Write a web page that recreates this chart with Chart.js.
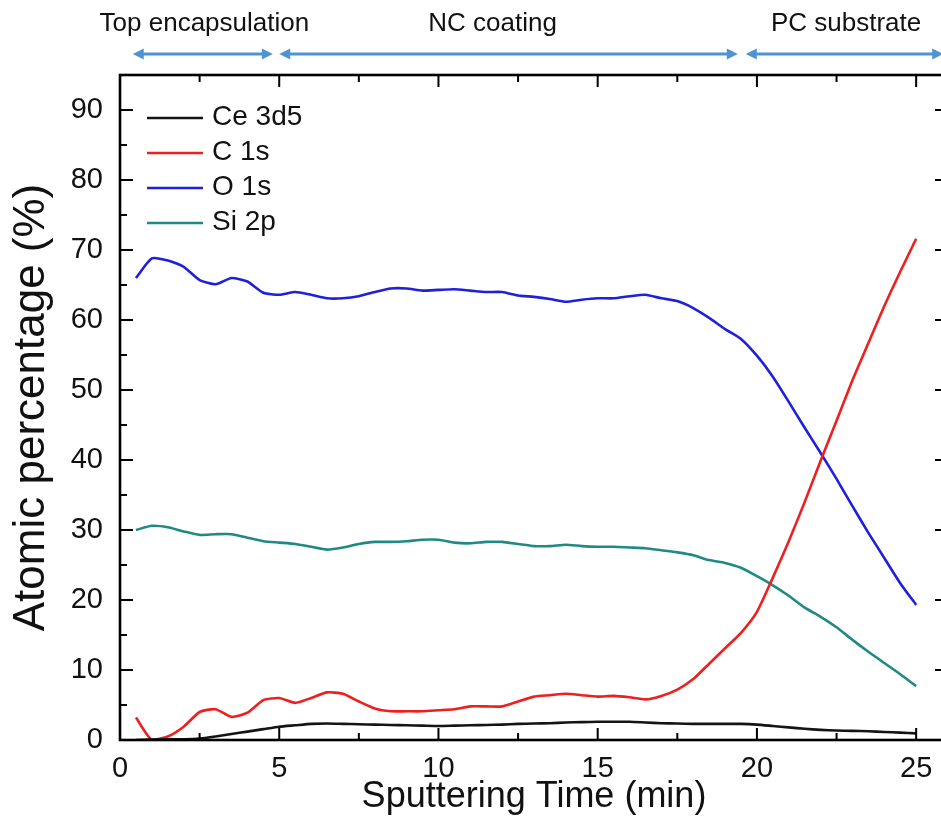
<!DOCTYPE html>
<html>
<head>
<meta charset="utf-8">
<title>XPS depth profile</title>
<script src="https://cdn.jsdelivr.net/npm/chart.js@4.4.1/dist/chart.umd.min.js"></script>
<style>
	html, body { margin: 0; padding: 0; background: #fff; overflow: hidden; }
	#wrap { width: 941px; height: 828px; overflow: hidden; }
	canvas { display: block; }
</style>
</head>
<body>
<div id="wrap"><canvas id="profile" width="960" height="828"></canvas></div>
<script>
// sputtering time (min)
const times = [
	0.5, 1, 1.5, 2, 2.5, 3, 3.5, 4, 4.5, 5,
	5.5, 6, 6.5, 7, 7.5, 8, 8.5, 9, 9.5, 10,
	10.5, 11, 11.5, 12, 12.5, 13, 13.5, 14, 14.5, 15,
	15.5, 16, 16.5, 17, 17.5, 18, 18.5, 19, 19.5, 20,
	20.5, 21, 21.5, 22, 22.5, 23, 23.5, 24, 24.5, 25
];

// atomic percentage (%)
const ce3d5 = [
	0.0, 0.05, 0.1, 0.1, 0.2, 0.5, 0.85, 1.2, 1.55, 1.9,
	2.1, 2.3, 2.35, 2.3, 2.25, 2.2, 2.15, 2.1, 2.05, 2.0,
	2.05, 2.1, 2.15, 2.2, 2.3, 2.35, 2.4, 2.5, 2.55, 2.6,
	2.6, 2.6, 2.5, 2.4, 2.35, 2.3, 2.3, 2.3, 2.3, 2.2,
	2.0, 1.8, 1.6, 1.45, 1.35, 1.3, 1.25, 1.15, 1.05, 0.95
];
const c1s = [
	3.2, 0.0, 0.5, 1.9, 4.0, 4.4, 3.3, 3.9, 5.7, 6.0,
	5.3, 6.0, 6.8, 6.6, 5.5, 4.5, 4.1, 4.1, 4.1, 4.25,
	4.4, 4.8, 4.8, 4.8, 5.5, 6.2, 6.4, 6.6, 6.4, 6.2,
	6.3, 6.1, 5.8, 6.3, 7.2, 8.7, 10.9, 13.1, 15.3, 18.3,
	23.2, 28.4, 34.0, 39.9, 45.6, 51.4, 56.7, 62.0, 66.9, 71.6
];
const o1s = [
	66.0, 68.8, 68.5, 67.6, 65.7, 65.1, 66.0, 65.5, 63.9, 63.6,
	64.0, 63.6, 63.1, 63.1, 63.4, 64.0, 64.5, 64.5, 64.2, 64.3,
	64.4, 64.2, 64.0, 64.0, 63.5, 63.3, 63.0, 62.6, 62.9, 63.1,
	63.1, 63.4, 63.6, 63.1, 62.7, 61.7, 60.3, 58.7, 57.3, 54.9,
	51.9, 48.3, 44.6, 41.0, 37.3, 33.4, 29.6, 26.0, 22.4, 19.3
];
const si2p = [
	30.0, 30.6, 30.4, 29.8, 29.3, 29.4, 29.4, 28.9, 28.4, 28.2,
	28.0, 27.6, 27.2, 27.5, 28.0, 28.3, 28.3, 28.4, 28.6, 28.6,
	28.2, 28.1, 28.3, 28.3, 28.0, 27.7, 27.7, 27.9, 27.7, 27.6,
	27.6, 27.5, 27.4, 27.1, 26.8, 26.4, 25.7, 25.3, 24.6, 23.4,
	22.1, 20.6, 18.9, 17.6, 16.1, 14.3, 12.6, 11.0, 9.4, 7.7
];

const xTicks = [0, 5, 10, 15, 20, 25];
const yTicks = [0, 10, 20, 30, 40, 50, 60, 70, 80, 90];

// layer stack over the sputtering time
const layerNames = ['Top encapsulation', 'NC coating', 'PC substrate'];
const layerStart = [0.4, 5.0, 19.65];
const layerEnd = [4.8, 19.4, 25.85];
const layerLabelAt = [2.65, 11.7, 22.8];

const FONT = '"Liberation Sans", Arial, Helvetica, sans-serif';
const ARROW = '#4f93d3';

const pairs = values => times.map((t, i) => ({ x: t, y: values[i] }));

const frame = {
	id: 'frame',
	afterDraw(chart) {
		const { ctx, chartArea: a, scales: { x, y } } = chart;
		ctx.save();
		ctx.strokeStyle = '#000';
		ctx.lineWidth = 2;
		ctx.beginPath();
		// inward ticks on all four sides, minor ones shorter
		for (let v = 0; v <= x.max; v += 2.5) {
			const px = x.getPixelForValue(v);
			const len = v % 5 === 0 ? 12 : 7;
			ctx.moveTo(px, a.bottom);
			ctx.lineTo(px, a.bottom - len);
			ctx.moveTo(px, a.top);
			ctx.lineTo(px, a.top + len);
		}
		for (let v = 0; v <= y.max; v += 5) {
			const py = y.getPixelForValue(v);
			const len = v % 10 === 0 ? 13 : 7;
			ctx.moveTo(a.left, py);
			ctx.lineTo(a.left + len, py);
			ctx.moveTo(a.right, py);
			ctx.lineTo(a.right - len, py);
		}
		ctx.stroke();
		ctx.lineWidth = 2.6;
		ctx.strokeRect(a.left, a.top, a.right - a.left, a.bottom - a.top);
		ctx.restore();
	}
};

const legendBox = {
	id: 'legendBox',
	afterDraw(chart) {
		const { ctx, chartArea: a } = chart;
		ctx.save();
		ctx.font = '28px ' + FONT;
		ctx.textBaseline = 'middle';
		ctx.fillStyle = '#111';
		chart.data.datasets.forEach((ds, i) => {
			const yy = a.top + 43 + i * 35;
			ctx.strokeStyle = ds.borderColor;
			ctx.lineWidth = 2.6;
			ctx.beginPath();
			ctx.moveTo(a.left + 27, yy);
			ctx.lineTo(a.left + 83, yy);
			ctx.stroke();
			ctx.fillText(ds.label, a.left + 92, yy - 1);
		});
		ctx.restore();
	}
};

const layers = {
	id: 'layers',
	afterDraw(chart) {
		const { ctx, scales: { x } } = chart;
		const ay = 54;
		ctx.save();
		ctx.fillStyle = '#111';
		ctx.font = '26px ' + FONT;
		ctx.textAlign = 'center';
		ctx.textBaseline = 'alphabetic';
		layerNames.forEach((name, i) => {
			ctx.fillText(name, x.getPixelForValue(layerLabelAt[i]), 31);
		});
		ctx.strokeStyle = ARROW;
		ctx.fillStyle = ARROW;
		ctx.lineWidth = 3;
		layerStart.forEach((s, i) => {
			const x0 = x.getPixelForValue(s);
			const x1 = x.getPixelForValue(layerEnd[i]);
			ctx.beginPath();
			ctx.moveTo(x0 + 6, ay);
			ctx.lineTo(x1 - 6, ay);
			ctx.stroke();
			// heads at both ends
			ctx.beginPath();
			ctx.moveTo(x0, ay);
			ctx.lineTo(x0 + 11, ay - 5.5);
			ctx.lineTo(x0 + 11, ay + 5.5);
			ctx.closePath();
			ctx.moveTo(x1, ay);
			ctx.lineTo(x1 - 11, ay - 5.5);
			ctx.lineTo(x1 - 11, ay + 5.5);
			ctx.closePath();
			ctx.fill();
		});
		ctx.restore();
	}
};

new Chart(document.getElementById('profile'), {
	type: 'line',
	data: {
		datasets: [
			{ label: 'Ce 3d5', data: pairs(ce3d5), borderColor: '#141414' },
			{ label: 'C 1s', data: pairs(c1s), borderColor: '#ee1f1f' },
			{ label: 'O 1s', data: pairs(o1s), borderColor: '#1f1fdc' },
			{ label: 'Si 2p', data: pairs(si2p), borderColor: '#1f8a83' }
		]
	},
	options: {
		responsive: false,
		animation: false,
		devicePixelRatio: 1,
		layout: { padding: { top: 75, right: 12, left: 0, bottom: 0 } },
		elements: {
			point: { radius: 0 },
			line: { borderWidth: 2.6, tension: 0.2, fill: false }
		},
		plugins: {
			legend: { display: false },
			tooltip: { enabled: false }
		},
		scales: {
			x: {
				type: 'linear',
				min: 0,
				max: 26,
				afterBuildTicks: scale => { scale.ticks = xTicks.map(v => ({ value: v })); },
				afterFit: scale => { scale.height = 88; },
				grid: { display: false, drawTicks: false },
				border: { display: false },
				ticks: { color: '#111', font: { family: FONT, size: 29 }, padding: 12, maxRotation: 0 },
				title: {
					display: true,
					text: 'Sputtering Time (min)',
					color: '#111',
					font: { family: FONT, size: 36 },
					padding: { top: 0, bottom: 9 }
				}
			},
			y: {
				min: 0,
				max: 95,
				afterBuildTicks: scale => { scale.ticks = yTicks.map(v => ({ value: v })); },
				afterFit: scale => { scale.width = 120; },
				grid: { display: false, drawTicks: false },
				border: { display: false },
				ticks: { color: '#111', font: { family: FONT, size: 29 }, padding: 17 },
				title: {
					display: true,
					text: 'Atomic percentage (%)',
					color: '#111',
					font: { family: FONT, size: 44 },
					padding: { top: 5, bottom: 0 }
				}
			}
		}
	},
	plugins: [frame, legendBox, layers]
});
</script>
</body>
</html>
